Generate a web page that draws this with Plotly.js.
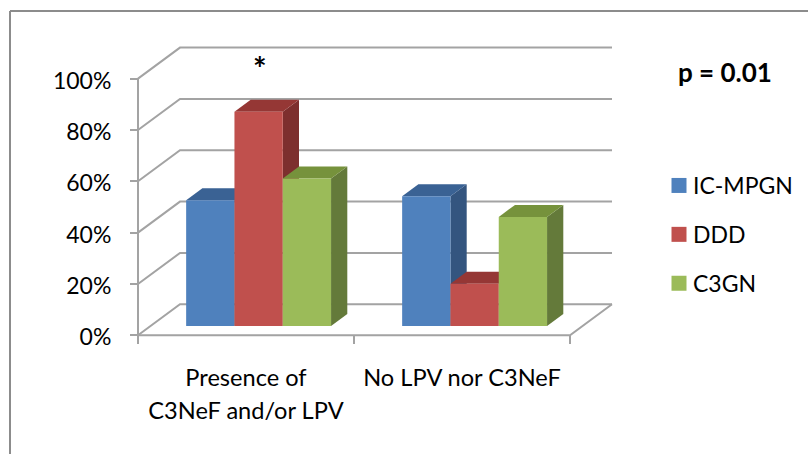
<!DOCTYPE html>
<html>
<head>
<meta charset="utf-8">
<script src="https://cdn.plot.ly/plotly-3.0.1.min.js"></script>
<style>html,body{margin:0;padding:0;background:#fff}#chart{width:808px;height:454px}</style>
</head>
<body>
<div id="chart"></div>
<script>
// Percentages per group
const categories = ['Presence of<br>C3NeF and/or LPV', 'No LPV nor C3NeF'];
const icMpgn = [49, 50.5];
const ddd = [83.5, 16.5];
const c3gn = [57.5, 42.5];
const seriesNames = ['IC-MPGN', 'DDD', 'C3GN'];
const frontColors = ['#4f81bd', '#c0504d', '#9bbb59'];
const sideColors = ['#34557f', '#7d2f2e', '#647a3a'];
const topColors = ['#3a6294', '#953735', '#76923c'];
const yTicks = [0, 20, 40, 60, 80, 100];

// Oblique projection of the chart box, in pixels on the page
const W = 808, H = 454;
const originX = 138, originY = 335.3;
const pxPerCategory = 216, pxPerPercent = 2.567;
const depthPxX = 42, depthPxY = 31;
const plotLeft = 128, plotRight = 624, plotTop = 38, plotBottom = 346;

// Depth of the box expressed in axis units
const depthX = depthPxX / pxPerCategory;
const depthY = depthPxY / pxPerPercent;

// Bars sit between these two fractions of the box depth
const barFront = 0.3, barBack = 0.687;
const barWidth = 48.3 / pxPerCategory;

const values = [icMpgn, ddd, c3gn];

function path(points) {
  return 'M' + points.map(p => p[0] + ',' + p[1]).join('L') + 'Z';
}
function polyline(points) {
  return 'M' + points.map(p => p[0] + ',' + p[1]).join('L');
}

const gridLine = {color: '#a3a3a3', width: 2};
const shapes = [];

// Frame around the chart, open towards the page edges
shapes.push({type: 'line', xref: 'paper', yref: 'paper', x0: 10 / W, x1: 1, y0: 1 - 11 / H, y1: 1 - 11 / H, line: {color: '#8c8c8c', width: 2}});
shapes.push({type: 'line', xref: 'paper', yref: 'paper', x0: 10 / W, x1: 10 / W, y0: 1 - 11 / H, y1: 0, line: {color: '#8c8c8c', width: 2}});

// Walls: each gridline runs up the side wall, then along the back wall
yTicks.forEach(v => {
  shapes.push({type: 'path', layer: 'below', xref: 'x', yref: 'y', line: gridLine,
    path: polyline([[0, v], [depthX, v + depthY], [categories.length + depthX, v + depthY]])});
});
// Vertical axis, front baseline and floor edge
shapes.push({type: 'path', layer: 'below', xref: 'x', yref: 'y', line: gridLine,
  path: polyline([[0, 100], [0, 0], [categories.length, 0], [categories.length + depthX, depthY]])});

// Side and top faces of each bar; front faces are the bar traces above them
const barTraces = [];
values.forEach((vals, s) => {
  const xs = [];
  vals.forEach((v, c) => {
    const left = c + 0.5 - 1.5 * barWidth + s * barWidth;
    const x0 = left + barFront * depthX, x1 = x0 + barWidth;
    const y0 = barFront * depthY, y1 = y0 + v;
    const dx = (barBack - barFront) * depthX, dy = (barBack - barFront) * depthY;
    xs.push(x0 + barWidth / 2);
    shapes.push({type: 'path', layer: 'below', xref: 'x', yref: 'y', fillcolor: sideColors[s], line: {width: 0},
      path: path([[x1, y0], [x1 + dx, y0 + dy], [x1 + dx, y1 + dy], [x1, y1]])});
    shapes.push({type: 'path', layer: 'below', xref: 'x', yref: 'y', fillcolor: topColors[s], line: {width: 0},
      path: path([[x0, y1], [x0 + dx, y1 + dy], [x1 + dx, y1 + dy], [x1, y1]])});
  });
  barTraces.push({
    type: 'bar', name: seriesNames[s], x: xs, y: vals,
    base: vals.map(() => barFront * depthY), width: barWidth,
    marker: {color: frontColors[s], line: {width: 0}},
    legendgroup: seriesNames[s], hoverinfo: 'skip'
  });
});

const font = {family: 'Lato, sans-serif', size: 23, color: '#000'};

const layout = {
  width: W, height: H,
  margin: {l: 0, r: 0, t: 0, b: 0},
  paper_bgcolor: '#fff', plot_bgcolor: 'rgba(0,0,0,0)',
  font: font,
  barmode: 'overlay',
  showlegend: true,
  legend: {x: 653 / W, y: 1 - 164 / H, xanchor: 'left', yanchor: 'top', font: font,
    tracegroupgap: 16, bgcolor: 'rgba(0,0,0,0)', itemclick: false},
  xaxis: {
    domain: [plotLeft / W, plotRight / W],
    range: [(plotLeft - originX) / pxPerCategory, (plotRight - originX) / pxPerCategory],
    anchor: 'free', position: 1 - originY / H,
    tickmode: 'array', tickvals: categories.map((_, i) => i + 0.5), ticktext: categories,
    ticks: '', showgrid: false, zeroline: false, showline: false, ticklabelstandoff: 26,
    minor: {tickmode: 'array', tickvals: [0, 1, 2], ticks: 'outside', ticklen: 8, tickwidth: 2, tickcolor: '#a3a3a3', showgrid: false},
    tickfont: {family: font.family, size: 23.6, color: '#000'}
  },
  yaxis: {
    domain: [1 - plotBottom / H, 1 - plotTop / H],
    range: [(originY - plotBottom) / pxPerPercent, (originY - plotTop) / pxPerPercent],
    anchor: 'free', position: originX / W,
    tickmode: 'array', tickvals: yTicks, ticktext: yTicks.map(v => v + '%'),
    ticks: 'outside', ticklen: 8, tickwidth: 2, tickcolor: '#a3a3a3',
    ticklabelstandoff: 14, ticklabelshift: 2,
    showgrid: false, zeroline: false, showline: false,
    tickfont: font
  },
  shapes: shapes,
  annotations: [
    {xref: 'paper', yref: 'paper', x: 260 / W, y: 1 - 68 / H, xanchor: 'center', yanchor: 'middle', text: '<b>*</b>', showarrow: false, font: {family: font.family, size: 32, color: '#000'}},
    {xref: 'paper', yref: 'paper', x: 725 / W, y: 1 - 72 / H, xanchor: 'center', yanchor: 'middle', text: '<b>p = 0.01</b>', showarrow: false, font: {family: font.family, size: 26, color: '#000'}}
  ]
};

Plotly.newPlot('chart', barTraces, layout, {displayModeBar: false, staticPlot: true}).then(gd => {
  // Wider leading between the two lines of the category label
  gd.querySelectorAll('.xtick text tspan.line').forEach(t => {
    if (parseFloat(t.getAttribute('dy')) > 0) t.setAttribute('dy', '33px');
  });
  // Larger legend swatches, set closer to the series names
  gd.querySelectorAll('.legend .legendpoints path').forEach(p => {
    p.setAttribute('d', 'M13.5,7.5H-1.5V-7.5H13.5Z');
  });
});
</script>
</body>
</html>
